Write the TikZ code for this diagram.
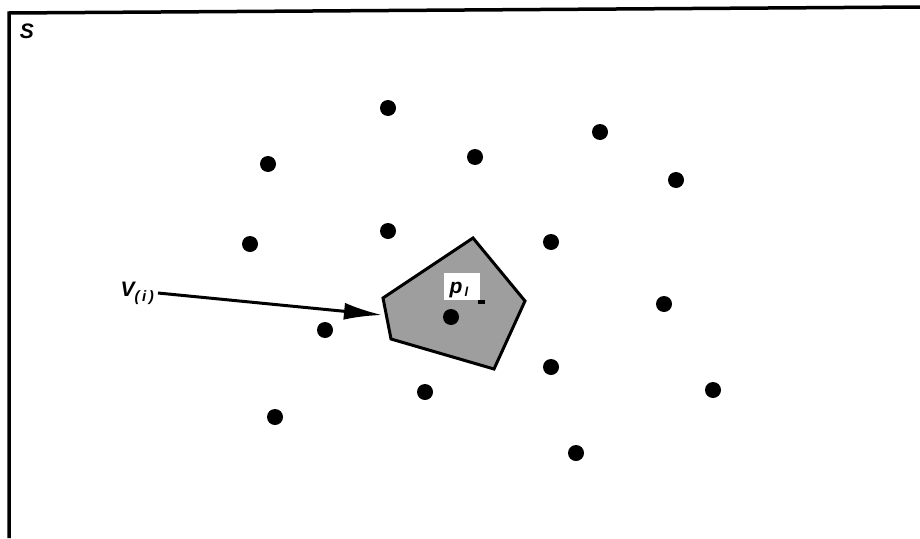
\documentclass[tikz,border=0pt]{standalone}
\usepackage{fontspec}
\setsansfont{Liberation Sans}
\usetikzlibrary{arrows.meta}
\begin{document}
\begin{tikzpicture}[x=1pt,y=-1pt,
  site/.style={circle,fill=black,inner sep=0pt,minimum size=16pt},
  lbl/.style={font=\sffamily\itshape\bfseries\fontsize{21}{24}\selectfont,inner sep=0pt},
  frameline/.style={line width=3.5pt},
  cell/.style={line width=3pt,fill=black!38,line join=miter}]
\useasboundingbox (0,0) rectangle (920,538);
\fill[white] (0,0) rectangle (920,538);
% frame
\coordinate (fbl) at (9,538);
\coordinate (ftl) at (9,13);
\coordinate (ftr) at (920,7);
\draw[frameline] (fbl) -- (ftl) -- (ftr);
\node[lbl] (S) at (27,31) {S};
% Voronoi cell
\coordinate (v1) at (383,298);
\coordinate (v2) at (473,238);
\coordinate (v3) at (525,301);
\coordinate (v4) at (494,369);
\coordinate (v5) at (391,339);
\draw[cell] (v1) -- (v2) -- (v3) -- (v4) -- (v5) -- cycle;
\fill[white] (444,273) rectangle (480,300);
\node[lbl,font=\sffamily\itshape\bfseries\fontsize{21}{22}\selectfont] (pl) at (459,290) {p\raisebox{-3pt}{\fontsize{13}{14}\selectfont\,l}};
\fill (478,300) rectangle (485,304);
% sites
\foreach \n/\p in {a/{(388,108)},b/{(600,132)},c/{(268,164)},d/{(475,157)},e/{(676,180)},
  f/{(250,244)},g/{(388,231)},h/{(551,242)},i/{(664,304)},j/{(325,330)},k/{(451,317)},
  l/{(551,367)},m/{(425,392)},n/{(713,390)},o/{(275,417)},q/{(576,453)}}
  \node[site] (s\n) at \p {};
% label and arrow
\node[lbl,anchor=east] (V) at (154,293) {V\raisebox{-5pt}{\fontsize{15}{16}\selectfont(\,i\,)}};
\coordinate (tip) at (382,315);
\draw[line width=3pt,-{Latex[length=38pt,width=17pt]}] (V.east) ++(4,0) -- (tip);
\end{tikzpicture}
\end{document}
